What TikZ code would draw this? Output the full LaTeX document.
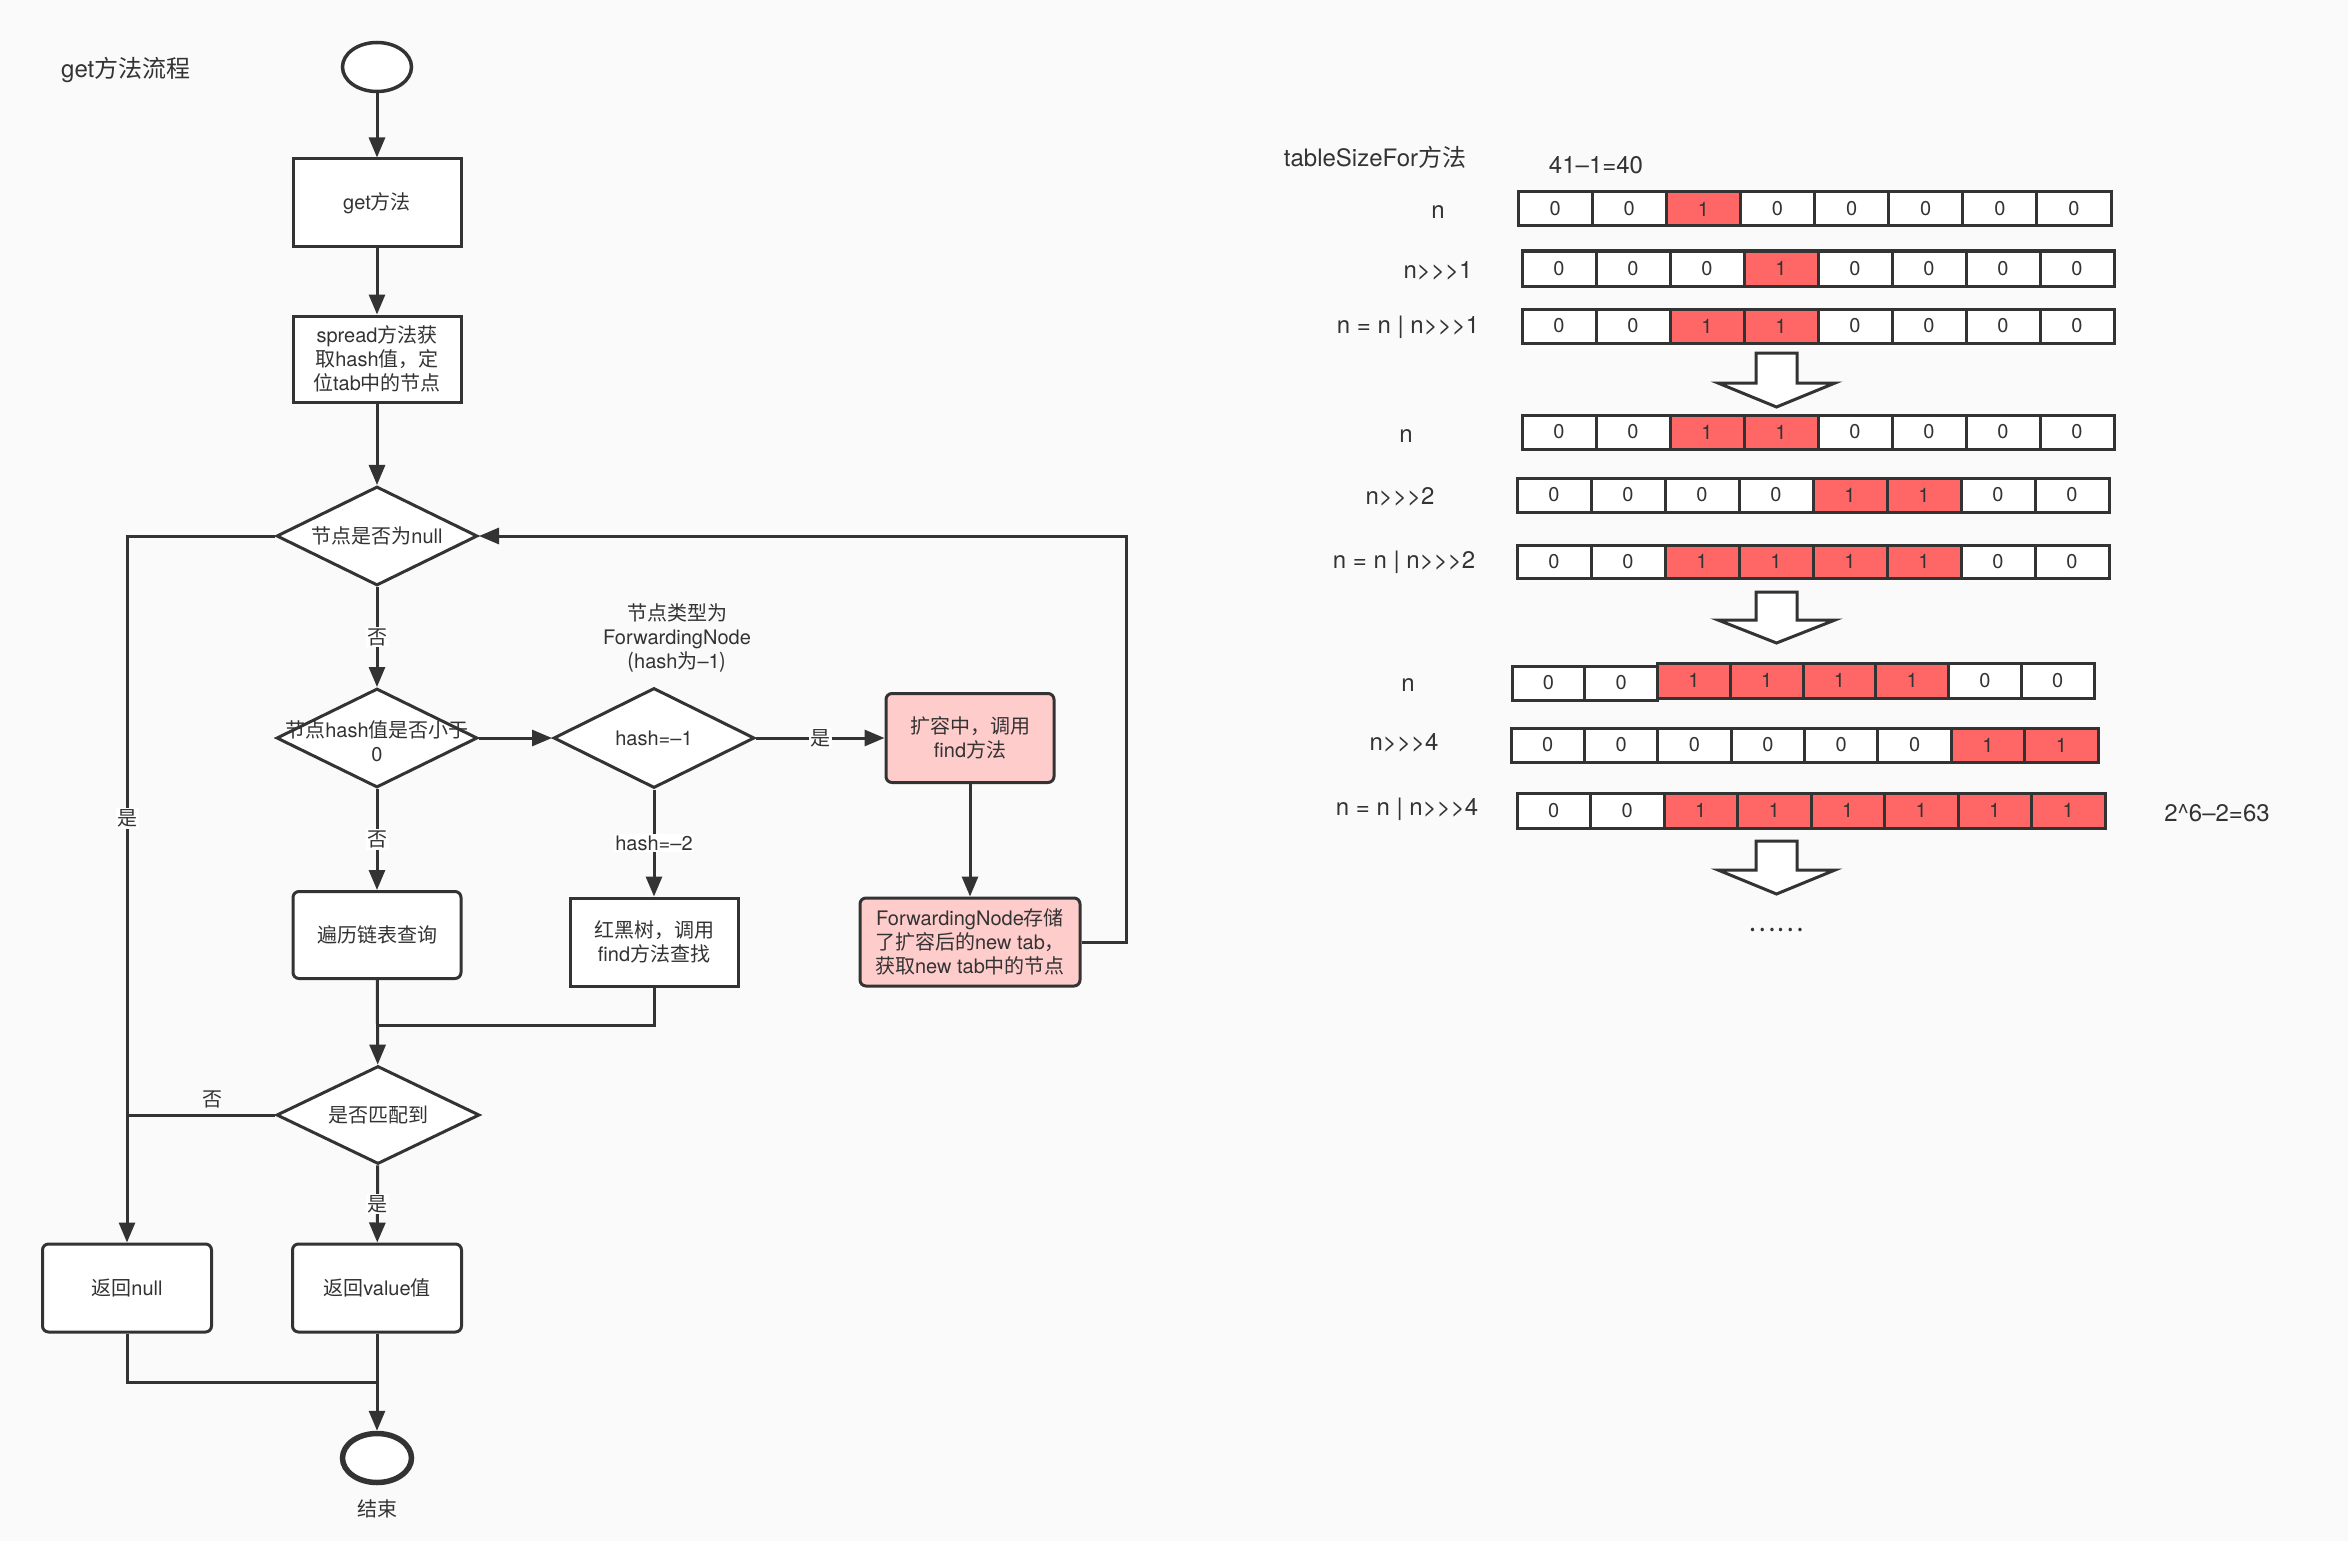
\documentclass[tikz,border=0pt]{standalone}
\usepackage{fontspec}
\setmainfont{Noto Sans CJK SC}
\newfontfamily\LTf{TeX Gyre Heros}
\newcommand\LT[1]{{\LTf #1}}
\usetikzlibrary{arrows.meta,shapes.geometric}
\definecolor{ink}{HTML}{333333}
\definecolor{bgc}{HTML}{FAFAFA}
\definecolor{pinkf}{HTML}{FFCCCC}
\definecolor{redc}{HTML}{FF6666}
\tikzset{
  nbase/.style={draw=ink, line width=3pt, text=ink, font=\fontsize{20}{24}\selectfont, align=center, inner sep=0pt},
  sq/.style={nbase, rectangle, fill=white, minimum width=168pt, minimum height=88pt},
  rnd/.style={sq, rounded corners=6pt},
  pk/.style={rnd, fill=pinkf},
  dia/.style={nbase, diamond, fill=white, minimum width=201pt, minimum height=99pt},
  dtext/.style={text=ink, font=\fontsize{20}{24}\selectfont, align=center, inner sep=0pt},
  term/.style={nbase, ellipse, fill=white, minimum width=69pt, minimum height=49pt},
  conn/.style={draw=ink, line width=3pt, -{Triangle[length=20pt,width=16pt]}},
  wire/.style={draw=ink, line width=3pt},
  lab/.style={fill=white, text=ink, font=\fontsize{20}{24}\selectfont, inner sep=1.5pt},
  plain/.style={text=ink, font=\fontsize{20}{24}\selectfont, align=center, inner sep=0pt},
  rowlbl/.style={text=ink, font=\LTf\fontsize{24}{28}\selectfont, inner sep=0pt},
  celltext/.style={text=ink, font=\LTf\fontsize{20}{24}\selectfont, inner sep=0pt},
  blk/.style={draw=ink, fill=white, line width=3pt, line join=miter},
}
\newcommand\bitrow[6]{%
  \foreach \b [count=\i from 0] in {#6} {
    \pgfmathsetmacro\xa{#2+\i*#3}
    \pgfmathsetmacro\xb{#2+(\i+1)*#3}
    \ifnum\b=1 \def\cf{redc}\else\def\cf{white}\fi
    \filldraw[fill=\cf, draw=ink, line width=3pt] (\xa,#4) rectangle (\xb,#5);
    \node[celltext] (#1-\i) at ({(\xa+\xb)/2},{(#4+#5)/2}) {\b};
  }%
}
\begin{document}
\begin{tikzpicture}[x=1pt,y=-1pt]
\useasboundingbox (0,0) rectangle (2348,1541);
\fill[bgc] (0,0) rectangle (2348,1541);

% ---------- left flowchart ----------
\node[plain, font=\fontsize{24}{28}\selectfont, anchor=west] (title) at (61,70) {\LT{get}方法流程};

\node[term, line width=3.5pt] (start) at (377,67) {};
\node[sq] (get) at (377,203) {\LT{get}方法};
\node[sq, minimum height=86pt] (spread) at (377,359) {\LT{spread}方法获\\取\LT{hash}值，定\\位\LT{tab}中的节点};
\node[dia, label={[dtext]center:{节点是否为\LT{null}}}] (d1) at (377,536) {};
\node[dia, label={[dtext, yshift=-3pt]center:{节点\LT{hash}值是否小于\\\LT{0}}}] (d2) at (377,738) {};
\node[dia, minimum height=100pt, label={[dtext]center:{\LT{hash=–1}}}] (d3) at (654,738) {};
\node[plain] (fwd) at (677,638) {节点类型为\\\LT{ForwardingNode}\\(\LT{hash}为\LT{–1})};
\node[pk, minimum height=89pt] (pk1) at (970,738) {扩容中，调用\\\LT{find}方法};
\node[pk, minimum width=220pt] (pk2) at (970,942) {\LT{ForwardingNode}存储\\了扩容后的\LT{new tab}，\\获取\LT{new tab}中的节点};
\node[rnd, minimum height=87pt] (bl) at (377,935) {遍历链表查询};
\node[sq] (rb) at (654,942) {红黑树，调用\\\LT{find}方法查找};
\node[dia, minimum width=203pt, minimum height=98pt, label={[dtext]center:{是否匹配到}}] (d4) at (378,1115) {};
\node[rnd, minimum width=169pt] (rn) at (127,1288) {返回\LT{null}};
\node[rnd, minimum width=169pt] (rv) at (377,1288) {返回\LT{value}值};
\node[term, line width=5.5pt] (end) at (377,1458) {};
\node[plain] (endlbl) at (377,1509) {结束};

\coordinate (j1) at (377,1025);
\coordinate (j2) at (377,1382);

\draw[conn] (start) -- (get);
\draw[conn] (get) -- (spread);
\draw[conn] (spread) -- (d1);
\draw[conn] (d1) -- node[lab]{否} (d2);
\draw[conn] (d2) -- node[lab]{否} (bl);
\draw[conn] (d2) -- (d3);
\draw[conn] (d3) -- node[lab]{是} (pk1);
\draw[conn] (d3) -- node[lab]{\LT{hash=–2}} (rb);
\draw[conn] (pk1) -- (pk2);
\draw[conn] (pk2.east) -- ++(45,0) |- (d1.east);
\draw[conn] (d1.west) -| node[lab, pos=0.70]{是} (rn.north);
\draw[wire] (d4.west) -- node[plain, pos=0.42, yshift=16pt]{否} (d4.west -| rn.north);
\draw[conn] (bl) -- (d4);
\draw[wire] (rb.south) |- (j1);
\draw[conn] (d4) -- node[lab]{是} (rv);
\draw[wire] (rn.south) |- (j2);
\draw[conn] (rv) -- (end);

% ---------- right: tableSizeFor ----------
\node[plain, font=\fontsize{24}{28}\selectfont] (tsf) at (1375,157) {\LT{tableSizeFor}方法};
\node[rowlbl] (calc) at (1596,165) {41–1=40};

\node[rowlbl] (l1) at (1438,212) {n};
\node[rowlbl] (l2) at (1438,271) {n>>>1};
\node[rowlbl] (l3) at (1408,327) {n = n | n>>>1};
\node[rowlbl] (l4) at (1406,436) {n};
\node[rowlbl] (l5) at (1400,497) {n>>>2};
\node[rowlbl] (l6) at (1404,562) {n = n | n>>>2};
\node[rowlbl] (l7) at (1408,685) {n};
\node[rowlbl] (l8) at (1404,743) {n>>>4};
\node[rowlbl] (l9) at (1407,809) {n = n | n>>>4};
\node[rowlbl] (res) at (2217,813) {2\^{}6–2=63};

\bitrow{r1}{1518}{74.125}{192}{226}{0,0,1,0,0,0,0,0}
\bitrow{r2}{1522}{74}{251}{286}{0,0,0,1,0,0,0,0}
\bitrow{r3}{1522}{74}{309}{343}{0,0,1,1,0,0,0,0}
\bitrow{r4}{1522}{74}{415}{449}{0,0,1,1,0,0,0,0}
\bitrow{r5}{1517}{74}{478}{512}{0,0,0,0,1,1,0,0}
\bitrow{r6}{1517}{74}{545}{578}{0,0,1,1,1,1,0,0}
\bitrow{r7a}{1512}{72.75}{666}{700}{0,0}
\bitrow{r7b}{1657.5}{72.75}{663}{698}{1,1,1,1,0,0}
\bitrow{r8}{1511}{73.375}{728}{762}{0,0,0,0,0,0,1,1}
\bitrow{r9}{1517}{73.5}{793}{828}{0,0,1,1,1,1,1,1}

\foreach \yt/\yh/\yp in {353/383/407, 592/620/643, 841/870/894} {
  \draw[blk] (1756,\yt) -- (1797,\yt) -- (1797,\yh) -- (1835,\yh) -- (1776.5,\yp) -- (1718,\yh) -- (1756,\yh) -- cycle;
}
\node[plain, font=\fontsize{26}{28}\selectfont] (dots) at (1776,930) {……};
\end{tikzpicture}
\end{document}
